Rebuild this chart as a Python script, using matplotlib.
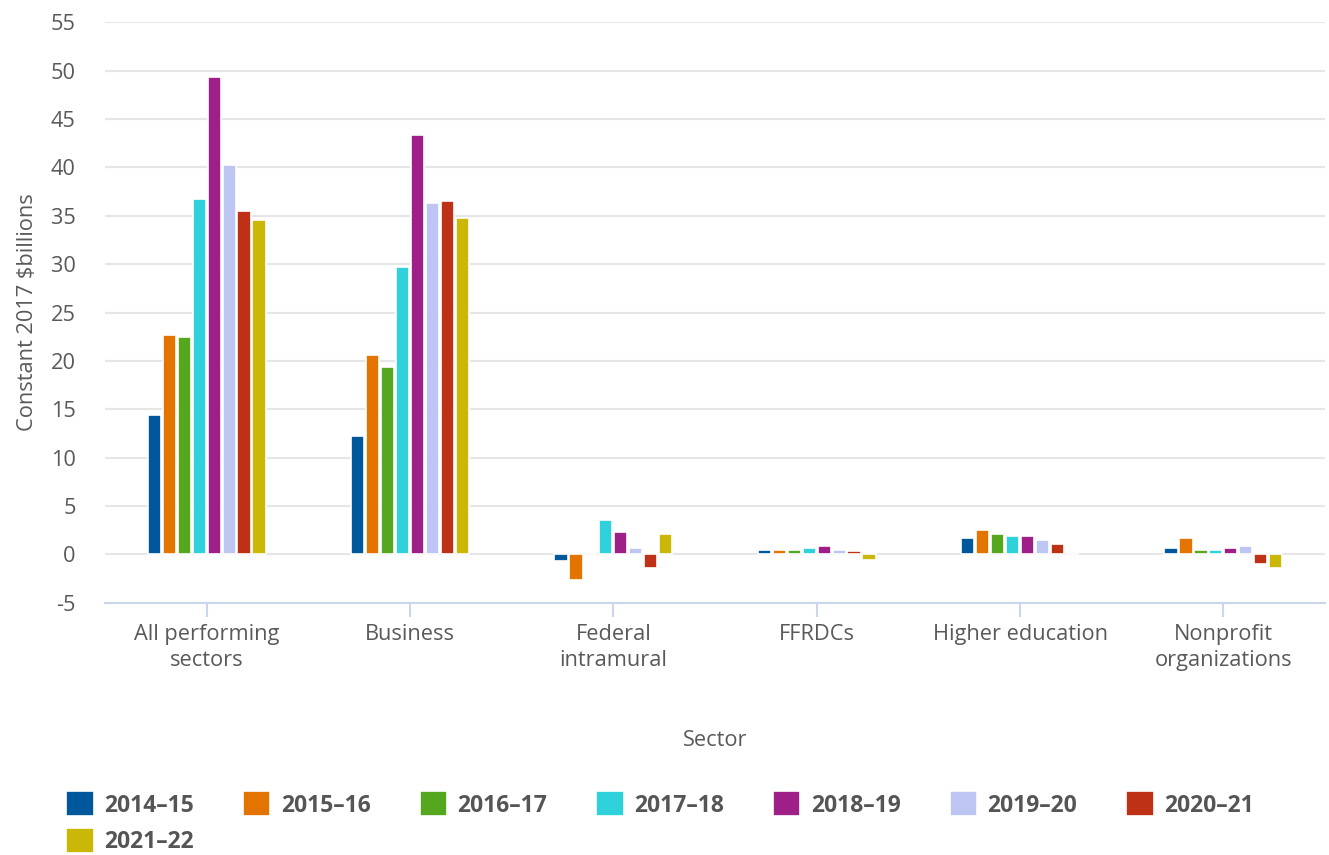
import numpy as np
import matplotlib.pyplot as plt

plt.rcParams['font.family'] = ['Open Sans', 'DejaVu Sans']
plt.rcParams['axes.unicode_minus'] = False

sectors = ['All performing\nsectors', 'Business', 'Federal\nintramural', 'FFRDCs',
           'Higher education', 'Nonprofit\norganizations']
years = ['2014–15', '2015–16', '2016–17', '2017–18', '2018–19', '2019–20', '2020–21', '2021–22']

# one list per year, values per sector (constant 2017 $billions)
v2014 = [14.4, 12.2, -0.7, 0.5, 1.7, 0.7]
v2015 = [22.7, 20.6, -2.6, 0.5, 2.5, 1.7]
v2016 = [22.5, 19.4, 0.0, 0.5, 2.1, 0.5]
v2017 = [36.7, 29.7, 3.6, 0.7, 1.9, 0.5]
v2018 = [49.3, 43.3, 2.3, 0.9, 1.9, 0.7]
v2019 = [40.2, 36.3, 0.7, 0.5, 1.5, 0.9]
v2020 = [35.5, 36.5, -1.4, 0.3, 1.1, -1.0]
v2021 = [34.6, 34.8, 2.1, -0.6, 0.0, -1.4]
series = [v2014, v2015, v2016, v2017, v2018, v2019, v2020, v2021]

colors = ['#00589c', '#e37400', '#55a81e', '#2fd1db', '#9e1f87', '#bdc6f2', '#bf3116', '#cbb707']

fig = plt.figure(figsize=(13.29, 8.55), dpi=100)
ax = fig.add_axes([0.079, 0.295, 0.918, 0.679])

x = np.arange(len(sectors))
slot = 0.0735
bars = []
for i, vals in enumerate(series):
    b = ax.bar(x + (i - 3.5) * slot, vals, width=slot * 0.88, color=colors[i],
               edgecolor='white', linewidth=1.2, label=years[i], zorder=3)
    bars.append(b)

ax.set_xlim(-0.5, len(sectors) - 0.5)
ax.set_ylim(-5, 55)
ax.set_yticks(range(-5, 56, 5))
ax.yaxis.grid(True, color='#e6e6e6', linewidth=1.5, zorder=0)
ax.set_axisbelow(True)
for s in ['top', 'right', 'left']:
    ax.spines[s].set_visible(False)
ax.spines['bottom'].set_color('#ccd6eb')
ax.spines['bottom'].set_linewidth(1.5)
ax.spines['bottom'].set_zorder(4)

ax.set_xticks(x)
ax.set_xticklabels(sectors, linespacing=1.35)
ax.tick_params(axis='x', colors='#ccd6eb', length=10, width=1.5, labelcolor='#595959',
               labelsize=15.7, pad=5)
ax.tick_params(axis='y', length=0, labelcolor='#595959', labelsize=15.7, pad=21)

ax.set_xlabel('Sector', fontsize=15.7, color='#595959', labelpad=42)
ax.set_ylabel('Constant 2017 $billions', fontsize=15.7, color='#595959', labelpad=9)

# row-wise legend order (matplotlib fills by column)
order = [0, 7, 1, 2, 3, 4, 5, 6]
fig.legend([bars[k] for k in order], [years[k] for k in order],
           loc='upper left', bbox_to_anchor=(0.043, 0.085), ncol=7, frameon=False,
           prop={'weight': 'bold', 'size': 16.5}, labelcolor='#555555',
           handlelength=1.2, handleheight=1.3, handletextpad=0.45,
           columnspacing=2.14, borderaxespad=0, labelspacing=0.45)

fig.savefig('out.png', dpi=100)
